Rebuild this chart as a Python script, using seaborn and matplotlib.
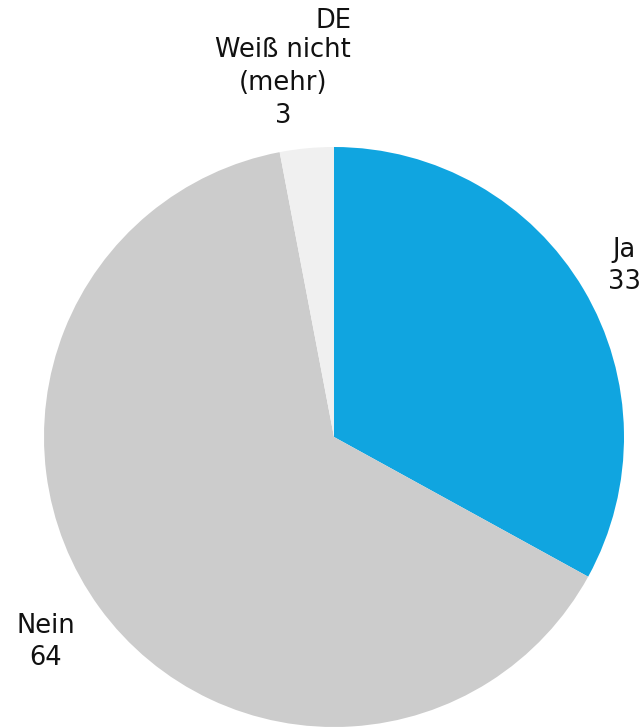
import matplotlib
matplotlib.use("Agg")
import matplotlib.pyplot as plt
import seaborn as sns

sns.set_theme(style="white")
plt.rcParams['font.family'] = ['DejaVu Sans']

title = "DE"
categories = ["Ja", "Nein", "Weiß nicht\n(mehr)"]
values = [33, 64, 3]
colors = ["#10A5E0", "#CCCCCC", "#F0F0F0"]

W, H = 641, 727
fig = plt.figure(figsize=(W / 100, H / 100), dpi=100)
cx, cy, r = 334, 437, 290
ax = fig.add_axes([(cx - r) / W, (H - cy - r) / H, 2 * r / W, 2 * r / H])
ax.set_axis_off()

wedges, _ = ax.pie(values, colors=colors, startangle=90, counterclock=False,
                   radius=1, wedgeprops=dict(linewidth=0))
ax.set_xlim(-1, 1)
ax.set_ylim(-1, 1)
ax.set_aspect("equal")

def px(x, y):
    return ((x - cx) / r, (cy - y) / r)

label_pos = [px(624, 266), px(46, 642), px(283, 83)]
for cat, val, (lx, ly) in zip(categories, values, label_pos):
    ax.text(lx, ly, f"{cat}\n{val}", ha="center", va="center", fontsize=18.5,
            linespacing=1.33, color="#111111", clip_on=False)

fig.text(334 / W, 1 - 21 / H, title, ha="center", va="center", fontsize=18.5, color="#111111")

fig.savefig("out.png", dpi=100)
